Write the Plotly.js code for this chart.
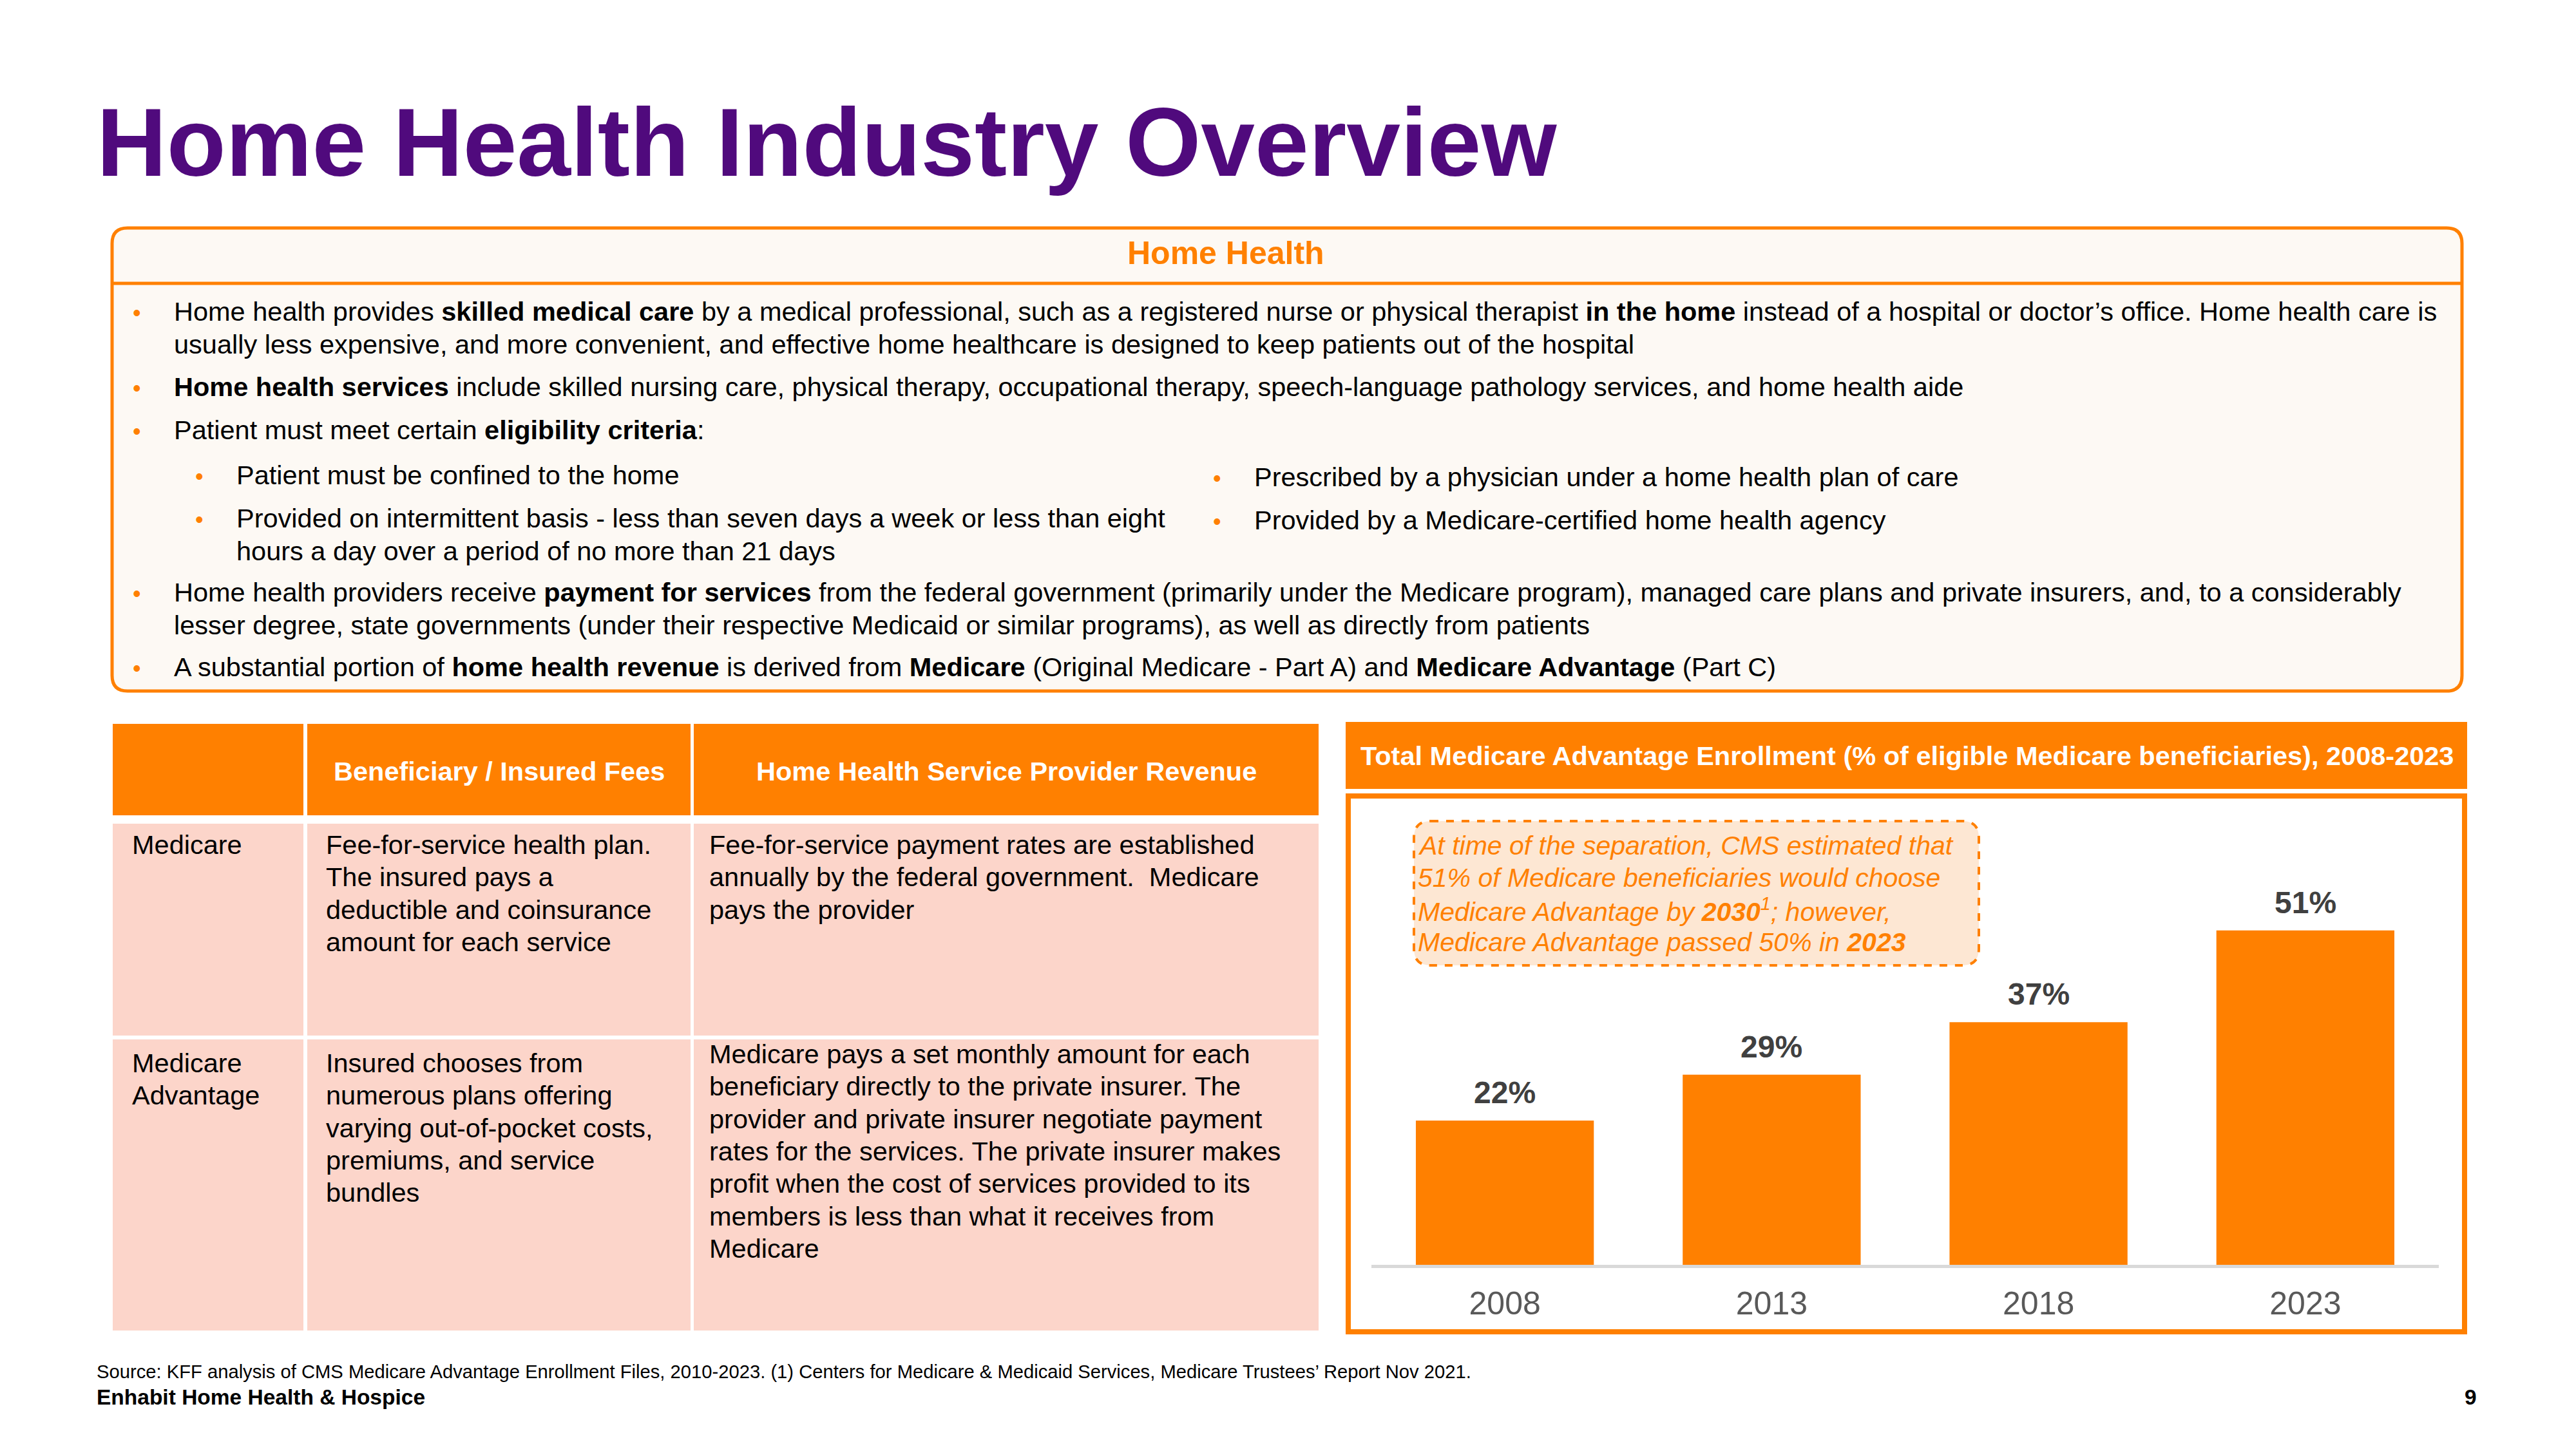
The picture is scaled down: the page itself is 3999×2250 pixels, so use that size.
<!DOCTYPE html>
<html>
<head>
<meta charset="utf-8">
<script src="https://cdn.plot.ly/plotly-3.0.1.min.js"></script>
<style>
  html, body { margin: 0; padding: 0; background: #ffffff; }
  #chart { width: 3999px; height: 2250px; }
</style>
</head>
<body>
<div id="chart"></div>
<script>
// ---------------- DATA ----------------
const years = ['2008', '2013', '2018', '2023'];
const enrollmentPct = [22, 29, 37, 51];

const titleText = 'Home Health Industry Overview';
const boxHeader = 'Home Health';
const bulletMain = [
  ['Home health provides <b>skilled medical care</b> by a medical professional, such as a registered nurse or physical therapist <b>in the home</b> instead of a hospital or doctor’s office. Home health care is',
   'usually less expensive, and more convenient, and effective home healthcare is designed to keep patients out of the hospital'],
  ['<b>Home health services</b> include skilled nursing care, physical therapy, occupational therapy, speech-language pathology services, and home health aide'],
  ['Patient must meet certain <b>eligibility criteria</b>:'],
  ['Home health providers receive <b>payment for services</b> from the federal government (primarily under the Medicare program), managed care plans and private insurers, and, to a considerably',
   'lesser degree, state governments (under their respective Medicaid or similar programs), as well as directly from patients'],
  ['A substantial portion of <b>home health revenue</b> is derived from <b>Medicare</b> (Original Medicare - Part A) and <b>Medicare Advantage</b> (Part C)']
];
const bulletSubLeft = [
  ['Patient must be confined to the home'],
  ['Provided on intermittent basis - less than seven days a week or less than eight',
   'hours a day over a period of no more than 21 days']
];
const bulletSubRight = [
  ['Prescribed by a physician under a home health plan of care'],
  ['Provided by a Medicare-certified home health agency']
];

const tableHeaders = ['', 'Beneficiary / Insured Fees', 'Home Health Service Provider Revenue'];
const tableRows = [
  [['Medicare'],
   ['Fee-for-service health plan.', 'The insured pays a', 'deductible and coinsurance', 'amount for each service'],
   ['Fee-for-service payment rates are established', 'annually by the federal government.  Medicare', 'pays the provider']],
  [['Medicare', 'Advantage'],
   ['Insured chooses from', 'numerous plans offering', 'varying out-of-pocket costs,', 'premiums, and service', 'bundles'],
   ['Medicare pays a set monthly amount for each', 'beneficiary directly to the private insurer. The',
    'provider and private insurer negotiate payment', 'rates for the services. The private insurer makes',
    'profit when the cost of services provided to its', 'members is less than what it receives from', 'Medicare']]
];

const chartTitle = 'Total Medicare Advantage Enrollment (% of eligible Medicare beneficiaries), 2008-2023';
const calloutLines = [
  'At time of the separation, CMS estimated that',
  '51% of Medicare beneficiaries would choose',
  'Medicare Advantage by <b>2030</b><sup>1</sup>; however,',
  'Medicare Advantage passed 50% in <b>2023</b>'
];
const sourceText = 'Source: KFF analysis of CMS Medicare Advantage Enrollment Files, 2010-2023. (1) Centers for Medicare & Medicaid Services, Medicare Trustees\u2019 Report Nov 2021.';
const footerLeft = 'Enhabit Home Health & Hospice';
const pageNumber = '9';

// ---------------- LAYOUT HELPERS ----------------
const W = 3999, H = 2250;
const FONT = '"Liberation Sans", Arial, Helvetica, sans-serif';
const ORANGE = '#FF8000';
const PURPLE = '#500A7D';
const fx = x => x / W;
const fy = y => 1 - y / H;

const annotations = [];
const shapes = [];

function txt(x, base, text, size, opts) {
  opts = opts || {};
  annotations.push({
    xref: 'paper', yref: 'paper',
    x: fx(x), y: fy(base - 0.3465 * size),
    xanchor: opts.anchor || 'left', yanchor: 'middle',
    text: text, showarrow: false, borderpad: 0, borderwidth: 0,
    font: { family: FONT, size: size, color: opts.color || '#000000' }
  });
}
function rect(x0, y0, x1, y1, fill, line) {
  shapes.push({
    type: 'rect', xref: 'paper', yref: 'paper', layer: 'below',
    x0: fx(x0), x1: fx(x1), y0: fy(y1), y1: fy(y0),
    fillcolor: fill || 'rgba(0,0,0,0)',
    line: line || { width: 0 }
  });
}
function roundRect(x0, y0, x1, y1, r, fill, line) {
  const p = (x, y) => fx(x) + ',' + fy(y);
  const path = 'M ' + p(x0 + r, y0) + ' L ' + p(x1 - r, y0) + ' Q ' + p(x1, y0) + ' ' + p(x1, y0 + r) +
    ' L ' + p(x1, y1 - r) + ' Q ' + p(x1, y1) + ' ' + p(x1 - r, y1) +
    ' L ' + p(x0 + r, y1) + ' Q ' + p(x0, y1) + ' ' + p(x0, y1 - r) +
    ' L ' + p(x0, y0 + r) + ' Q ' + p(x0, y0) + ' ' + p(x0 + r, y0) + ' Z';
  shapes.push({ type: 'path', xref: 'paper', yref: 'paper', layer: 'below', path: path,
    fillcolor: fill, line: line });
}

// ---------------- TITLE ----------------
txt(150, 273, '<b>' + titleText + '</b>', 150.5, { color: PURPLE });

// ---------------- TOP BOX ----------------
roundRect(174, 354, 3822, 1073, 24, '#FDF9F4', { color: ORANGE, width: 5 });
shapes.push({ type: 'line', xref: 'paper', yref: 'paper', layer: 'below',
  x0: fx(176), x1: fx(3820), y0: fy(440), y1: fy(440), line: { color: ORANGE, width: 5 } });
txt(1903, 410, '<b>' + boxHeader + '</b>', 50, { anchor: 'center', color: ORANGE });

const BODY = 41.5, STEP = 50.5;
const mainBase = [498, 615, 682, 934, 1050];
bulletMain.forEach((lines, i) => {
  txt(206, mainBase[i], '•', 36, { color: ORANGE });
  lines.forEach((l, j) => txt(270, mainBase[i] + j * STEP, l, BODY));
});
const subLeftBase = [752, 819];
bulletSubLeft.forEach((lines, i) => {
  txt(303, subLeftBase[i], '•', 36, { color: ORANGE });
  lines.forEach((l, j) => txt(367, subLeftBase[i] + j * STEP, l, BODY));
});
const subRightBase = [755, 822];
bulletSubRight.forEach((lines, i) => {
  txt(1883, subRightBase[i], '•', 36, { color: ORANGE });
  lines.forEach((l, j) => txt(1947, subRightBase[i] + j * STEP, l, BODY));
});

// ---------------- TABLE ----------------
const colEdges = [[175, 471], [477, 1072], [1077, 2047]];
const headRow = [1124, 1266];
const bodyRowsY = [[1279, 1608], [1614, 2066]];
const cellTextX = [205, 506, 1101];
const rowFirstBase = [[1326, 1326, 1326], [1665, 1665, 1651]];
const TSIZE = 41.5, TSTEP = 50.3;

colEdges.forEach((c, ci) => {
  rect(c[0], headRow[0], c[1], headRow[1], ORANGE);
  if (tableHeaders[ci]) txt((c[0] + c[1]) / 2, 1212, '<b>' + tableHeaders[ci] + '</b>', 41.5, { anchor: 'center', color: '#FFFFFF' });
  bodyRowsY.forEach((r, ri) => {
    rect(c[0], r[0], c[1], r[1], '#FCD5CA');
    tableRows[ri][ci].forEach((l, li) => txt(cellTextX[ci], rowFirstBase[ri][ci] + li * TSTEP, l, TSIZE));
  });
});

// ---------------- CHART PANEL ----------------
rect(2089, 1121, 3830, 1225, ORANGE);
txt(2960, 1188, '<b>' + chartTitle + '</b>', 41.5, { anchor: 'center', color: '#FFFFFF' });
rect(2093, 1236, 3826, 2068, 'rgba(0,0,0,0)', { color: ORANGE, width: 8 });

roundRect(2195, 1275, 3072, 1499, 26, '#FDE7D3', { color: ORANGE, width: 4, dash: 'dash' });
calloutLines.forEach((l, i) => txt(2201, 1327 + i * 50, '<i>' + l + '</i>', 41, { color: ORANGE }));

// bar value labels (positioned on the data scale)
years.forEach((yr, i) => {
  annotations.push({
    xref: 'x', yref: 'y', x: i, y: enrollmentPct[i],
    xanchor: 'center', yanchor: 'bottom', yshift: 17,
    text: '<b>' + enrollmentPct[i] + '%</b>', showarrow: false, borderpad: 0, borderwidth: 0,
    font: { family: FONT, size: 48, color: '#404040' }
  });
});

// ---------------- FOOTER ----------------
txt(150, 2140, sourceText, 29.2);
txt(150, 2181, '<b>' + footerLeft + '</b>', 33.5);
txt(3845, 2181, '<b>' + pageNumber + '</b>', 33.5, { anchor: 'right' });

// ---------------- PLOT ----------------
const PX_PER_PCT = 10.18;
const plotBottom = 1964, plotTop = 1240;

const data = [{
  type: 'bar',
  x: years,
  y: enrollmentPct,
  marker: { color: ORANGE, line: { width: 0 } },
  hoverinfo: 'skip',
  showlegend: false
}];

const layout = {
  width: W, height: H,
  margin: { l: 0, r: 0, t: 0, b: 0, pad: 0 },
  paper_bgcolor: '#FFFFFF',
  plot_bgcolor: 'rgba(0,0,0,0)',
  bargap: 0.333,
  showlegend: false,
  font: { family: FONT },
  xaxis: {
    domain: [fx(2129), fx(3786)],
    type: 'category',
    range: [-0.5, 3.5],
    showline: true, linecolor: '#D9D9D9', linewidth: 5,
    showgrid: false, zeroline: false, ticks: '',
    ticklabelstandoff: 12,
    tickfont: { family: FONT, size: 50, color: '#595959' },
    fixedrange: true
  },
  yaxis: {
    domain: [fy(plotBottom), fy(plotTop)],
    range: [0, (plotBottom - plotTop) / PX_PER_PCT],
    visible: false, showgrid: false, zeroline: false, fixedrange: true
  },
  shapes: shapes,
  annotations: annotations
};

Plotly.newPlot('chart', data, layout, { displayModeBar: false, staticPlot: true });
</script>
</body>
</html>
